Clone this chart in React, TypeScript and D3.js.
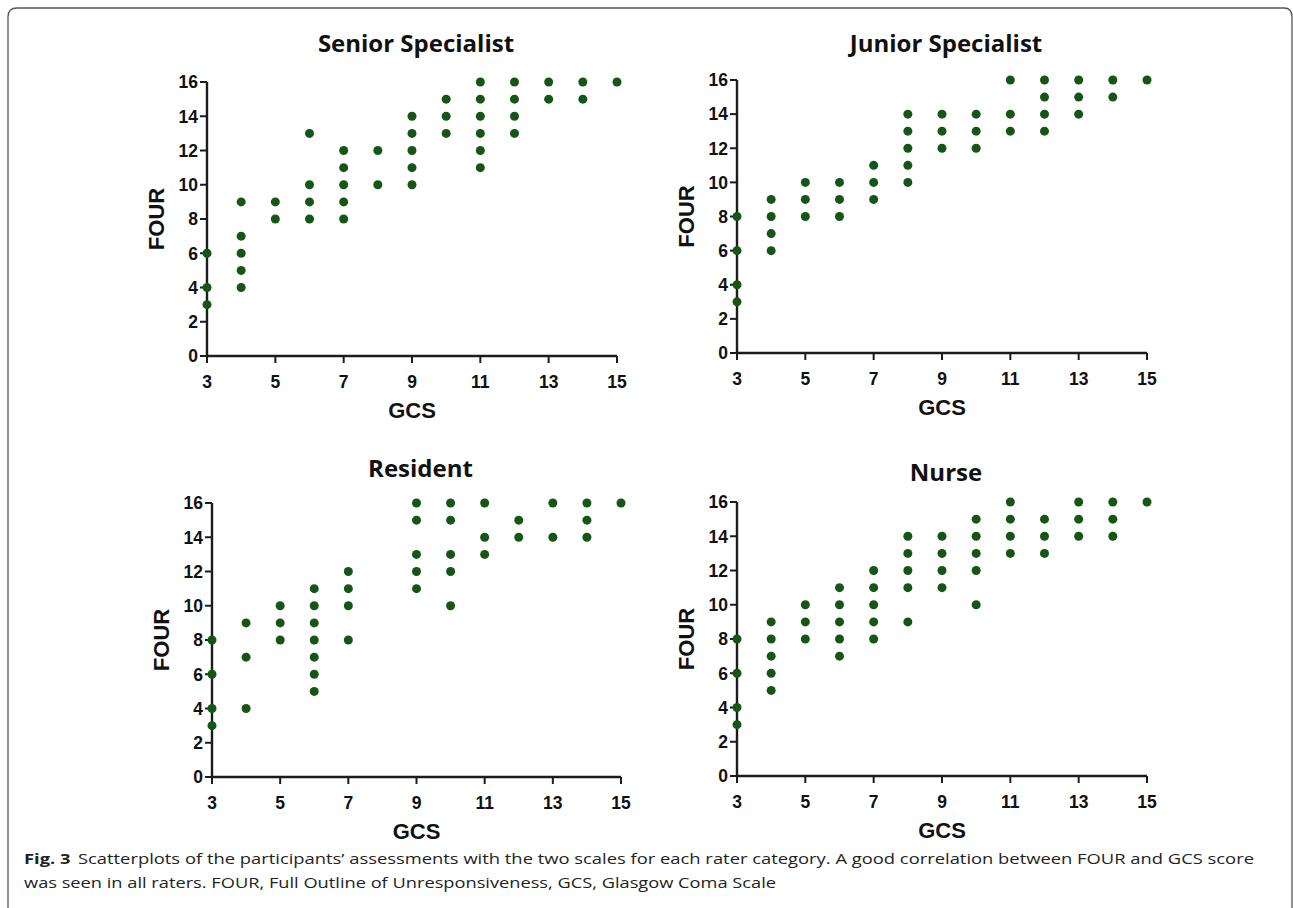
import { useMemo } from 'react'
import * as d3 from 'd3'

const WIDTH = 1293
const HEIGHT = 908

// [GCS, FOUR] pairs
const seniorPoints: [number, number][] = [
  [3, 3], [3, 4], [3, 6],
  [4, 4], [4, 5], [4, 6], [4, 7], [4, 9],
  [5, 8], [5, 9],
  [6, 8], [6, 9], [6, 10], [6, 13],
  [7, 8], [7, 9], [7, 10], [7, 11], [7, 12],
  [8, 10], [8, 12],
  [9, 10], [9, 11], [9, 12], [9, 13], [9, 14],
  [10, 13], [10, 14], [10, 15],
  [11, 11], [11, 12], [11, 13], [11, 14], [11, 15], [11, 16],
  [12, 13], [12, 14], [12, 15], [12, 16],
  [13, 15], [13, 16],
  [14, 15], [14, 16],
  [15, 16],
]

const juniorPoints: [number, number][] = [
  [3, 3], [3, 4], [3, 6], [3, 8],
  [4, 6], [4, 7], [4, 8], [4, 9],
  [5, 8], [5, 9], [5, 10],
  [6, 8], [6, 9], [6, 10],
  [7, 9], [7, 10], [7, 11],
  [8, 10], [8, 11], [8, 12], [8, 13], [8, 14],
  [9, 12], [9, 13], [9, 14],
  [10, 12], [10, 13], [10, 14],
  [11, 13], [11, 14], [11, 16],
  [12, 13], [12, 14], [12, 15], [12, 16],
  [13, 14], [13, 15], [13, 16],
  [14, 15], [14, 16],
  [15, 16],
]

const residentPoints: [number, number][] = [
  [3, 3], [3, 4], [3, 6], [3, 8],
  [4, 4], [4, 7], [4, 9],
  [5, 8], [5, 9], [5, 10],
  [6, 5], [6, 6], [6, 7], [6, 8], [6, 9], [6, 10], [6, 11],
  [7, 8], [7, 10], [7, 11], [7, 12],
  [9, 11], [9, 12], [9, 13], [9, 15], [9, 16],
  [10, 10], [10, 12], [10, 13], [10, 15], [10, 16],
  [11, 13], [11, 14], [11, 16],
  [12, 14], [12, 15],
  [13, 14], [13, 16],
  [14, 14], [14, 15], [14, 16],
  [15, 16],
]

const nursePoints: [number, number][] = [
  [3, 3], [3, 4], [3, 6], [3, 8],
  [4, 5], [4, 6], [4, 7], [4, 8], [4, 9],
  [5, 8], [5, 9], [5, 10],
  [6, 7], [6, 8], [6, 9], [6, 10], [6, 11],
  [7, 8], [7, 9], [7, 10], [7, 11], [7, 12],
  [8, 9], [8, 11], [8, 12], [8, 13], [8, 14],
  [9, 11], [9, 12], [9, 13], [9, 14],
  [10, 10], [10, 12], [10, 13], [10, 14], [10, 15],
  [11, 13], [11, 14], [11, 15], [11, 16],
  [12, 13], [12, 14], [12, 15],
  [13, 14], [13, 15], [13, 16],
  [14, 14], [14, 15], [14, 16],
  [15, 16],
]

const xTicks = [3, 5, 7, 9, 11, 13, 15]
const yTicks = [0, 2, 4, 6, 8, 10, 12, 14, 16]

const captionBold = 'Fig. 3'
const captionLine1 =
  'Scatterplots of the participants’ assessments with the two scales for each rater category. A good correlation between FOUR and GCS score'
const captionLine2 =
  'was seen in all raters. FOUR, Full Outline of Unresponsiveness, GCS, Glasgow Coma Scale'

const DOT = '#175517'
const AXIS = '#1c1c1c'
const TICK_FONT = '"Liberation Sans", Arial, sans-serif'
const TITLE_FONT = '"Open Sans", "Noto Sans", sans-serif'

// plot area boxes (left, right, top = 16, bottom = 0) for each panel
const panels = [
  { title: 'Senior Specialist', data: seniorPoints, left: 207, right: 617, top: 82, bottom: 356, titleY: 52 },
  { title: 'Junior Specialist', data: juniorPoints, left: 737, right: 1147, top: 80, bottom: 353, titleY: 52 },
  { title: 'Resident', data: residentPoints, left: 212, right: 621, top: 503, bottom: 777, titleY: 477 },
  { title: 'Nurse', data: nursePoints, left: 737, right: 1147, top: 502, bottom: 776, titleY: 481 },
]

const Panel = ({ title, data, left, right, top, bottom, titleY }) => {
  const xScale = useMemo(() => d3.scaleLinear().domain([3, 15]).range([left, right]), [left, right])
  const yScale = useMemo(() => d3.scaleLinear().domain([0, 16]).range([bottom, top]), [top, bottom])
  const midX = (left + right) / 2
  const midY = (top + bottom) / 2

  return (
    <g>
      <text
        x={midX + 4}
        y={titleY}
        textAnchor="middle"
        fontFamily={TITLE_FONT}
        fontWeight="bold"
        fontSize="24"
        fill="#111"
      >
        {title}
      </text>

      {/* axes */}
      <line x1={left} x2={left} y1={yScale(16)} y2={yScale(0)} stroke={AXIS} strokeWidth={2.4} />
      <line x1={left} x2={xScale(15)} y1={bottom} y2={bottom} stroke={AXIS} strokeWidth={2.4} />

      {yTicks.map((t) => (
        <g key={`y${t}`}>
          <line x1={left - 7} x2={left} y1={yScale(t)} y2={yScale(t)} stroke={AXIS} strokeWidth={2} />
          <text
            x={left - 9}
            y={yScale(t)}
            dy="0.36em"
            textAnchor="end"
            fontFamily={TICK_FONT}
            fontWeight="bold"
            fontSize="17.5"
            fill="#111"
          >
            {t}
          </text>
        </g>
      ))}

      {xTicks.map((t) => (
        <g key={`x${t}`}>
          <line x1={xScale(t)} x2={xScale(t)} y1={bottom} y2={bottom + 7} stroke={AXIS} strokeWidth={2} />
          <text
            x={xScale(t)}
            y={bottom + 32}
            textAnchor="middle"
            fontFamily={TICK_FONT}
            fontWeight="bold"
            fontSize="17.5"
            fill="#111"
          >
            {t}
          </text>
        </g>
      ))}

      <text
        x={midX}
        y={bottom + 62}
        textAnchor="middle"
        fontFamily={TICK_FONT}
        fontWeight="bold"
        fontSize="22"
        fill="#111"
      >
        GCS
      </text>
      <text
        transform={`translate(${left - 43},${midY}) rotate(-90)`}
        textAnchor="middle"
        fontFamily={TICK_FONT}
        fontWeight="bold"
        fontSize="22"
        fill="#111"
      >
        FOUR
      </text>

      {data.map(([gcs, four], i) => (
        <circle key={i} cx={xScale(gcs)} cy={yScale(four)} r={4.5} fill={DOT} />
      ))}
    </g>
  )
}

export default function App() {
  return (
    <div style={{ position: 'absolute', left: 0, top: 0 }}>
      <svg width={WIDTH} height={HEIGHT} style={{ display: 'block', background: '#fff' }}>
        <path
          d={`M8,${HEIGHT} V17 Q8,8 17,8 H1284 Q1292,8 1292,17 V${HEIGHT}`}
          fill="none"
          stroke="#555"
          strokeWidth={1.3}
        />
        {panels.map((p) => (
          <Panel key={p.title} {...p} />
        ))}
        <text
          x={24}
          y={864}
          fontFamily={TITLE_FONT}
          fontSize="15"
          fill="#222"
          textLength={1230}
          lengthAdjust="spacingAndGlyphs"
        >
          <tspan fontWeight="bold">{captionBold}</tspan>
          <tspan dx="6">{captionLine1}</tspan>
        </text>
        <text
          x={24}
          y={888}
          fontFamily={TITLE_FONT}
          fontSize="15"
          fill="#222"
          textLength={752}
          lengthAdjust="spacingAndGlyphs"
        >
          {captionLine2}
        </text>
      </svg>
    </div>
  )
}
